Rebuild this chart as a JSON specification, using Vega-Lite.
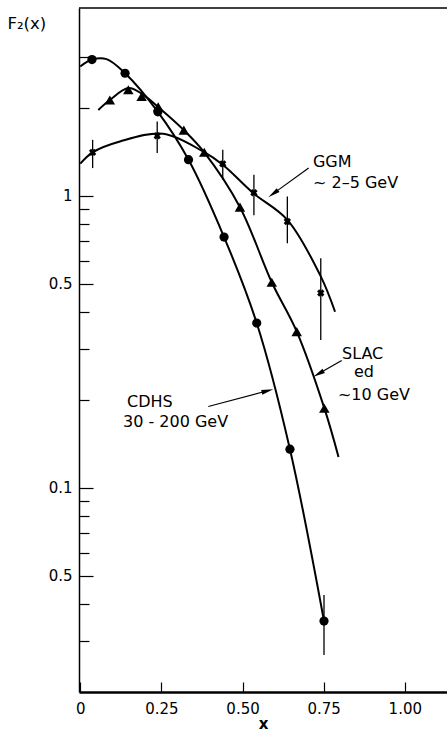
{
  "$schema": "https://vega.github.io/schema/vega-lite/v6.json",
  "width": 368,
  "height": 684,
  "autosize": {"type": "none"},
  "padding": {"left": 79, "top": 8, "right": 0, "bottom": 39},
  "background": "white",
  "config": {
    "view": {"stroke": null},
    "font": "DejaVu Sans",
    "axis": {"domainColor": "black", "tickColor": "black", "labelColor": "black", "titleColor": "black", "grid": false, "labelFont": "DejaVu Sans", "titleFont": "DejaVu Sans"}
  },
  "datasets": {
    "curves": [
      {"series": "CDHS", "x": 0, "f2": 2.775},
      {"series": "CDHS", "x": 0.036, "f2": 2.93},
      {"series": "CDHS", "x": 0.081, "f2": 2.94},
      {"series": "CDHS", "x": 0.138, "f2": 2.63},
      {"series": "CDHS", "x": 0.239, "f2": 1.94},
      {"series": "CDHS", "x": 0.3335, "f2": 1.33},
      {"series": "CDHS", "x": 0.443, "f2": 0.723},
      {"series": "CDHS", "x": 0.5436, "f2": 0.367},
      {"series": "CDHS", "x": 0.646, "f2": 0.1357},
      {"series": "CDHS", "x": 0.751, "f2": 0.035},
      {"series": "SLAC", "x": 0.0555, "f2": 1.97},
      {"series": "SLAC", "x": 0.091, "f2": 2.13},
      {"series": "SLAC", "x": 0.148, "f2": 2.34},
      {"series": "SLAC", "x": 0.189, "f2": 2.24},
      {"series": "SLAC", "x": 0.239, "f2": 2.02},
      {"series": "SLAC", "x": 0.319, "f2": 1.68},
      {"series": "SLAC", "x": 0.382, "f2": 1.41},
      {"series": "SLAC", "x": 0.492, "f2": 0.915},
      {"series": "SLAC", "x": 0.59, "f2": 0.506},
      {"series": "SLAC", "x": 0.667, "f2": 0.343},
      {"series": "SLAC", "x": 0.752, "f2": 0.1875},
      {"series": "SLAC", "x": 0.7957, "f2": 0.1277},
      {"series": "GGM", "x": 0, "f2": 1.29},
      {"series": "GGM", "x": 0.038, "f2": 1.41},
      {"series": "GGM", "x": 0.122, "f2": 1.536},
      {"series": "GGM", "x": 0.255, "f2": 1.632},
      {"series": "GGM", "x": 0.378, "f2": 1.42},
      {"series": "GGM", "x": 0.439, "f2": 1.278},
      {"series": "GGM", "x": 0.533, "f2": 1.022},
      {"series": "GGM", "x": 0.638, "f2": 0.828},
      {"series": "GGM", "x": 0.741, "f2": 0.53},
      {"series": "GGM", "x": 0.785, "f2": 0.401}
    ],
    "points": [
      {"series": "CDHS", "x": 0.036, "f2": 2.93},
      {"series": "CDHS", "x": 0.138, "f2": 2.63},
      {"series": "CDHS", "x": 0.239, "f2": 1.94},
      {"series": "CDHS", "x": 0.3335, "f2": 1.33},
      {"series": "CDHS", "x": 0.443, "f2": 0.723},
      {"series": "CDHS", "x": 0.5436, "f2": 0.367},
      {"series": "CDHS", "x": 0.646, "f2": 0.1357},
      {"series": "CDHS", "x": 0.751, "f2": 0.035},
      {"series": "SLAC", "x": 0.091, "f2": 2.13},
      {"series": "SLAC", "x": 0.148, "f2": 2.31},
      {"series": "SLAC", "x": 0.189, "f2": 2.19},
      {"series": "SLAC", "x": 0.24, "f2": 2.02},
      {"series": "SLAC", "x": 0.319, "f2": 1.68},
      {"series": "SLAC", "x": 0.382, "f2": 1.41},
      {"series": "SLAC", "x": 0.492, "f2": 0.915},
      {"series": "SLAC", "x": 0.59, "f2": 0.506},
      {"series": "SLAC", "x": 0.667, "f2": 0.343},
      {"series": "SLAC", "x": 0.752, "f2": 0.1875},
      {"series": "GGM", "x": 0.038, "f2": 1.41},
      {"series": "GGM", "x": 0.237, "f2": 1.606},
      {"series": "GGM", "x": 0.439, "f2": 1.288},
      {"series": "GGM", "x": 0.535, "f2": 1.025},
      {"series": "GGM", "x": 0.638, "f2": 0.817},
      {"series": "GGM", "x": 0.741, "f2": 0.465}
    ],
    "errs": [
      {"series": "GGM", "x": 0.038, "lo": 1.245, "hi": 1.556},
      {"series": "GGM", "x": 0.237, "lo": 1.402, "hi": 1.799},
      {"series": "GGM", "x": 0.439, "lo": 1.135, "hi": 1.439},
      {"series": "GGM", "x": 0.535, "lo": 0.858, "hi": 1.181},
      {"series": "GGM", "x": 0.638, "lo": 0.689, "hi": 0.995},
      {"series": "GGM", "x": 0.741, "lo": 0.321, "hi": 0.612},
      {"series": "CDHS", "x": 0.751, "lo": 0.0268, "hi": 0.043}
    ],
    "arrows": [
      {"label": "GGM", "x": 0.7038, "f2": 1.245, "xb": 0.5945, "f2b": 1.018, "angle": 234.3},
      {"label": "SLAC", "x": 0.8055, "f2": 0.273, "xb": 0.734, "f2b": 0.2458, "angle": 240.2},
      {"label": "CDHS", "x": 0.3945, "f2": 0.19, "xb": 0.5769, "f2b": 0.2151, "angle": 75}
    ],
    "labels": [
      {"text": "GGM", "x": 0.717, "f2": 1.258},
      {"text": "~ 2–5 GeV", "x": 0.717, "f2": 1.066},
      {"text": "SLAC", "x": 0.8065, "f2": 0.2767},
      {"text": "ed", "x": 0.8434, "f2": 0.2401},
      {"text": "~10 GeV", "x": 0.794, "f2": 0.2001},
      {"text": "CDHS", "x": 0.1442, "f2": 0.1895},
      {"text": "30 - 200 GeV", "x": 0.1316, "f2": 0.1618}
    ]
  },
  "layer": [
    {
      "data": {"name": "curves"},
      "mark": {"type": "line", "interpolate": "catmull-rom", "strokeWidth": 2, "color": "black"},
      "encoding": {
        "x": {
          "field": "x", "type": "quantitative",
          "scale": {"domain": [-0.004, 1.13], "nice": false, "zero": false},
          "axis": {
            "values": [0, 0.25, 0.5, 0.75, 1],
            "labelExpr": "datum.value == 0 ? '0' : format(datum.value, '.2f')",
            "tickSize": -10, "tickWidth": 1.2, "domainWidth": 2.5,
            "labelFontSize": 15, "labelPadding": 19, "labelFlush": false, "labelOverlap": false,
            "title": "x", "titleFontSize": 15, "titleFontWeight": "bold",
            "titleY": 36, "titleBaseline": "alphabetic"
          }
        },
        "y": {
          "field": "f2", "type": "quantitative",
          "scale": {"type": "log", "domain": [0.02, 4.4], "nice": false},
          "axis": {
            "values": [0.03, 0.04, 0.05, 0.06, 0.07, 0.08, 0.09, 0.1, 0.2, 0.3, 0.4, 0.5, 0.6, 0.7, 0.8, 0.9, 1, 2, 3],
            "labelExpr": "datum.value == 1 ? '1' : datum.value == 0.5 ? '0.5' : datum.value == 0.1 ? '0.1' : datum.value == 0.05 ? '0.5' : ''",
            "tickSize": {"condition": {"test": "datum.value == 1 || datum.value == 0.5 || datum.value == 0.1 || datum.value == 0.05", "value": -14}, "value": -10},
            "tickWidth": 1.2, "domainWidth": 1.5,
            "labelFontSize": 15, "labelPadding": 21, "labelOverlap": false,
            "title": "F₂(x)", "titleAngle": 0, "titleAlign": "left", "titleBaseline": "alphabetic",
            "titleX": -72, "titleY": 20, "titleFontSize": 16.5, "titleFontWeight": "normal"
          }
        },
        "detail": {"field": "series"},
        "order": {"field": "x", "type": "quantitative"}
      }
    },
    {
      "data": {"values": [{}]},
      "mark": {"type": "rule", "strokeWidth": 1.5, "color": "black"},
      "encoding": {
        "x": {"datum": -0.004, "type": "quantitative"},
        "x2": {"datum": 1.13},
        "y": {"datum": 4.4, "type": "quantitative"}
      }
    },
    {
      "data": {"name": "errs"},
      "mark": {"type": "rule", "strokeWidth": 1.3, "color": "black"},
      "encoding": {
        "x": {"field": "x", "type": "quantitative"},
        "y": {"field": "lo", "type": "quantitative"},
        "y2": {"field": "hi"}
      }
    },
    {
      "data": {"name": "points"},
      "transform": [{"filter": "datum.series == 'CDHS'"}],
      "mark": {"type": "point", "shape": "circle", "filled": true, "size": 85, "color": "black", "opacity": 1},
      "encoding": {
        "x": {"field": "x", "type": "quantitative"},
        "y": {"field": "f2", "type": "quantitative"}
      }
    },
    {
      "data": {"name": "points"},
      "transform": [{"filter": "datum.series == 'SLAC'"}],
      "mark": {"type": "point", "shape": "triangle-up", "filled": true, "size": 110, "color": "black", "opacity": 1},
      "encoding": {
        "x": {"field": "x", "type": "quantitative"},
        "y": {"field": "f2", "type": "quantitative"}
      }
    },
    {
      "data": {"name": "points"},
      "transform": [{"filter": "datum.series == 'GGM'"}],
      "mark": {"type": "point", "shape": "cross", "filled": true, "size": 55, "angle": 45, "color": "black", "opacity": 1},
      "encoding": {
        "x": {"field": "x", "type": "quantitative"},
        "y": {"field": "f2", "type": "quantitative"}
      }
    },
    {
      "data": {"name": "arrows"},
      "mark": {"type": "rule", "strokeWidth": 1.2, "color": "black"},
      "encoding": {
        "x": {"field": "x", "type": "quantitative"},
        "y": {"field": "f2", "type": "quantitative"},
        "x2": {"field": "xb"},
        "y2": {"field": "f2b"}
      }
    },
    {
      "data": {"name": "arrows"},
      "mark": {"type": "point", "shape": "M0,-1L0.4,1L-0.4,1Z", "filled": true, "size": 144, "color": "black", "opacity": 1},
      "encoding": {
        "x": {"field": "xb", "type": "quantitative"},
        "y": {"field": "f2b", "type": "quantitative"},
        "angle": {"field": "angle", "type": "quantitative", "scale": null}
      }
    },
    {
      "data": {"name": "labels"},
      "mark": {"type": "text", "align": "left", "baseline": "alphabetic", "fontSize": 16, "font": "DejaVu Sans", "color": "black"},
      "encoding": {
        "x": {"field": "x", "type": "quantitative"},
        "y": {"field": "f2", "type": "quantitative"},
        "text": {"field": "text"}
      }
    }
  ]
}
